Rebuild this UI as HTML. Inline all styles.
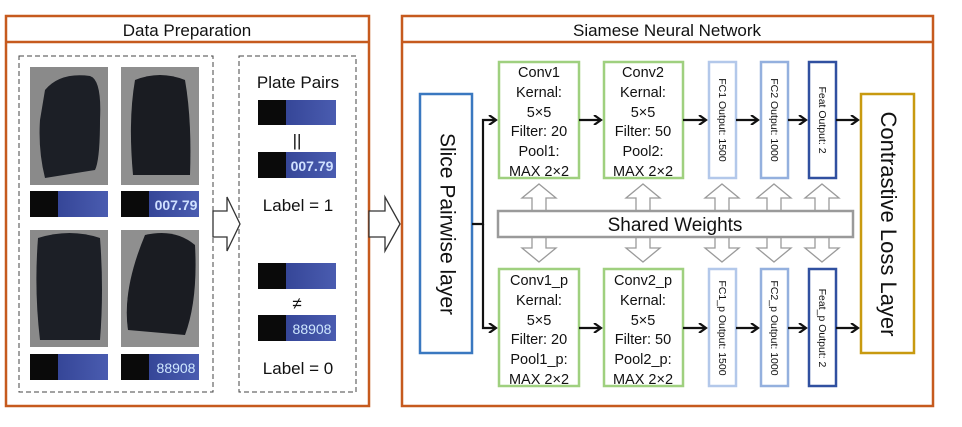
<!DOCTYPE html>
<html><head><meta charset="utf-8"><style>
html,body{margin:0;padding:0;background:#fff;}
svg{display:block;font-family:"Liberation Sans",sans-serif;}
</style></head><body>
<svg width="962" height="427" viewBox="0 0 962 427" xmlns="http://www.w3.org/2000/svg">
<defs>
<marker id="ah" markerWidth="10" markerHeight="10" refX="8" refY="5" orient="auto" markerUnits="userSpaceOnUse">
<path d="M1,0 L8,5 L1,10" fill="none" stroke="#111" stroke-width="2.2"/>
</marker>
<linearGradient id="pl" x1="0" x2="1"><stop offset="0" stop-color="#2a3a8a"/><stop offset="1" stop-color="#4a5cb0"/></linearGradient>
<g id="dw"><polygon points="0,184 17,198 7,198 7,211 -7,211 -7,198 -17,198"/><polygon points="0,262 17,248 7,248 7,237 -7,237 -7,248 -17,248"/></g>
</defs>
<!-- Left panel -->
<rect x="6" y="16" width="363" height="390" fill="#fff" stroke="#c65a1e" stroke-width="2.5"/>
<line x1="6" y1="42" x2="369" y2="42" stroke="#c65a1e" stroke-width="2.5"/>
<text x="187" y="36" font-size="17" text-anchor="middle" fill="#111">Data Preparation</text>
<rect x="19" y="56" width="194" height="336" fill="none" stroke="#444" stroke-width="1" stroke-dasharray="5,3"/>
<rect x="239" y="56" width="117" height="336" fill="none" stroke="#444" stroke-width="1" stroke-dasharray="5,3"/>
<g>
<rect x="30" y="67" width="78" height="118" fill="#8a8a8a"/>
<path d="M45,90 Q60,72 90,76 Q102,80 100,120 Q100,160 95,170 L45,178 Q38,150 40,120 Z" fill="#1c1f26"/>
<rect x="121" y="67" width="78" height="118" fill="#8f8f8f"/>
<path d="M135,80 Q160,70 185,80 Q192,120 190,175 L133,175 Q128,120 135,80 Z" fill="#1a1c22"/>
<rect x="30" y="230" width="78" height="117" fill="#8a8a8a"/>
<path d="M38,238 Q70,228 100,238 Q104,290 100,340 L40,340 Q34,290 38,238 Z" fill="#1c1f26"/>
<rect x="121" y="230" width="78" height="117" fill="#8f8f8f"/>
<path d="M145,235 Q175,228 195,245 Q198,300 185,335 L128,330 Q122,290 145,235 Z" fill="#1a1c22"/>
</g>
<g>
<rect x="30" y="191" width="78" height="26" fill="url(#pl)"/><rect x="30" y="191" width="28" height="26" fill="#0a0a0a"/>
<rect x="121" y="191" width="78" height="26" fill="url(#pl)"/><rect x="121" y="191" width="28" height="26" fill="#0a0a0a"/>
<text x="176" y="210" font-size="14" fill="#cfe0ff" text-anchor="middle" font-weight="bold">007.79</text>
<rect x="30" y="354" width="78" height="26" fill="url(#pl)"/><rect x="30" y="354" width="28" height="26" fill="#0a0a0a"/>
<rect x="121" y="354" width="78" height="26" fill="url(#pl)"/><rect x="121" y="354" width="28" height="26" fill="#0a0a0a"/>
<text x="176" y="373" font-size="14" fill="#cfe8ff" text-anchor="middle">88908</text>
<rect x="258" y="100" width="78" height="25" fill="url(#pl)"/><rect x="258" y="100" width="28" height="25" fill="#0a0a0a"/>
<rect x="258" y="152" width="78" height="26" fill="url(#pl)"/><rect x="258" y="152" width="28" height="26" fill="#0a0a0a"/>
<text x="312" y="171" font-size="14" fill="#cfe0ff" text-anchor="middle" font-weight="bold">007.79</text>
<rect x="258" y="263" width="78" height="26" fill="url(#pl)"/><rect x="258" y="263" width="28" height="26" fill="#0a0a0a"/>
<rect x="258" y="315" width="78" height="26" fill="url(#pl)"/><rect x="258" y="315" width="28" height="26" fill="#0a0a0a"/>
<text x="312" y="334" font-size="14" fill="#cfe8ff" text-anchor="middle">88908</text>
</g>
<text x="298" y="88" font-size="17" text-anchor="middle" fill="#111">Plate Pairs</text>
<text x="297" y="146" font-size="17" text-anchor="middle" fill="#111">||</text>
<text x="298" y="211" font-size="17" text-anchor="middle" fill="#111">Label = 1</text>
<text x="297" y="309" font-size="17" text-anchor="middle" fill="#111">≠</text>
<text x="298" y="374" font-size="17" text-anchor="middle" fill="#111">Label = 0</text>
<polygon points="213,211 227,211 227,197 240,224 227,251 227,237 213,237" fill="#fff" stroke="#333" stroke-width="1.3"/>
<polygon points="369,211 385,211 385,197 400,224 385,251 385,237 369,237" fill="#fff" stroke="#333" stroke-width="1.3"/>
<!-- Right panel -->
<rect x="402" y="16" width="531" height="390" fill="#fff" stroke="#c65a1e" stroke-width="2.5"/>
<line x1="402" y1="42" x2="933" y2="42" stroke="#c65a1e" stroke-width="2.5"/>
<text x="667" y="36" font-size="17" text-anchor="middle" fill="#111">Siamese Neural Network</text>
<rect x="420" y="94" width="52" height="259" fill="#fff" stroke="#3a78c0" stroke-width="2.5"/>
<text transform="translate(446,224) rotate(90)" font-size="21" text-anchor="middle" dominant-baseline="middle" fill="#111">Slice Pairwise layer</text>
<rect x="861" y="94" width="53" height="259" fill="#fff" stroke="#c89a10" stroke-width="2.5"/>
<text transform="translate(887,224) rotate(90)" font-size="22" text-anchor="middle" dominant-baseline="middle" fill="#111">Contrastive Loss Layer</text>
<path d="M472,224 H483 V120 H496" fill="none" stroke="#111" stroke-width="2.2" marker-end="url(#ah)"/>
<path d="M483,224 V328 H496" fill="none" stroke="#111" stroke-width="2.2" marker-end="url(#ah)"/>
<g fill="#fff" stroke="#9fd07f" stroke-width="2.5">
<rect x="499" y="62" width="80" height="116"/><rect x="604" y="62" width="79" height="116"/>
<rect x="499" y="269" width="80" height="117"/><rect x="604" y="269" width="79" height="117"/>
</g>
<g font-size="14.5" text-anchor="middle" fill="#111">
<text x="539" y="77">Conv1</text><text x="539" y="97">Kernal:</text><text x="539" y="117">5×5</text><text x="539" y="136">Filter: 20</text><text x="539" y="156">Pool1:</text><text x="539" y="176">MAX 2×2</text>
<text x="643" y="77">Conv2</text><text x="643" y="97">Kernal:</text><text x="643" y="117">5×5</text><text x="643" y="136">Filter: 50</text><text x="643" y="156">Pool2:</text><text x="643" y="176">MAX 2×2</text>
<text x="539" y="285">Conv1_p</text><text x="539" y="305">Kernal:</text><text x="539" y="325">5×5</text><text x="539" y="344">Filter: 20</text><text x="539" y="364">Pool1_p:</text><text x="539" y="384">MAX 2×2</text>
<text x="643" y="285">Conv2_p</text><text x="643" y="305">Kernal:</text><text x="643" y="325">5×5</text><text x="643" y="344">Filter: 50</text><text x="643" y="364">Pool2_p:</text><text x="643" y="384">MAX 2×2</text>
</g>
<g fill="#fff" stroke-width="2.5">
<rect x="709" y="62" width="27" height="116" stroke="#b3c8ea"/><rect x="761" y="62" width="27" height="116" stroke="#94b0de"/><rect x="809" y="62" width="27" height="116" stroke="#3050a0"/>
<rect x="709" y="269" width="27" height="117" stroke="#b3c8ea"/><rect x="761" y="269" width="27" height="117" stroke="#94b0de"/><rect x="809" y="269" width="27" height="117" stroke="#3050a0"/>
</g>
<g font-size="10.5" fill="#111" text-anchor="middle" dominant-baseline="middle">
<text transform="translate(722,120) rotate(90)">FC1 Output: 1500</text>
<text transform="translate(774,120) rotate(90)">FC2 Output: 1000</text>
<text transform="translate(822,120) rotate(90)">Feat Output: 2</text>
<text transform="translate(722,328) rotate(90)">FC1_p Output: 1500</text>
<text transform="translate(774,328) rotate(90)">FC2_p Output: 1000</text>
<text transform="translate(822,328) rotate(90)">Feat_p Output: 2</text>
</g>
<g stroke="#111" stroke-width="2.2" marker-end="url(#ah)">
<line x1="579" y1="120" x2="601" y2="120"/><line x1="683" y1="120" x2="706" y2="120"/><line x1="736" y1="120" x2="758" y2="120"/><line x1="788" y1="120" x2="806" y2="120"/><line x1="836" y1="120" x2="858" y2="120"/>
<line x1="579" y1="328" x2="601" y2="328"/><line x1="683" y1="328" x2="706" y2="328"/><line x1="736" y1="328" x2="758" y2="328"/><line x1="788" y1="328" x2="806" y2="328"/><line x1="836" y1="328" x2="858" y2="328"/>
</g>
<g fill="#fff" stroke="#9a9a9a" stroke-width="1.3">
<use href="#dw" x="539"/><use href="#dw" x="643"/><use href="#dw" x="722"/><use href="#dw" x="774"/><use href="#dw" x="822"/>
</g>
<rect x="498" y="211" width="355" height="26" fill="#fff" stroke="#9a9a9a" stroke-width="2.5"/>
<text x="675" y="231" font-size="19" text-anchor="middle" fill="#111">Shared Weights</text>
</svg>
</body></html>
